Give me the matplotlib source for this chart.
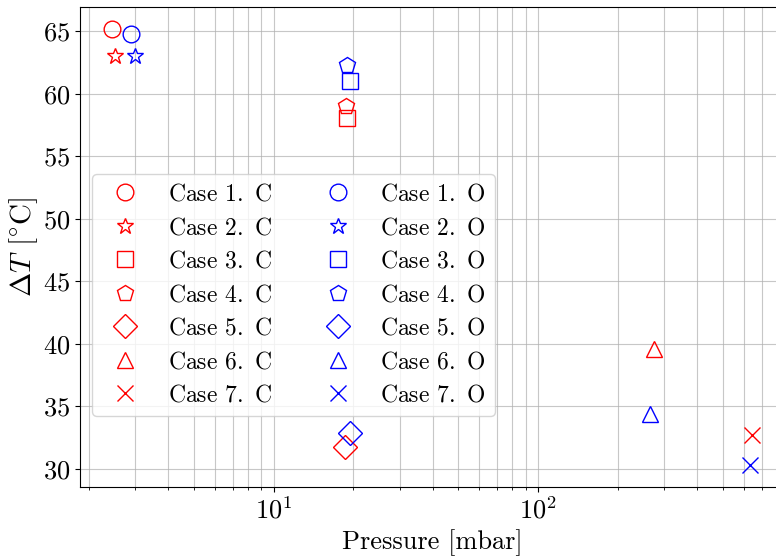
import matplotlib
matplotlib.use("Agg")
import matplotlib.pyplot as plt

plt.rcParams['font.family'] = 'cmr10'
plt.rcParams['mathtext.fontset'] = 'cm'
plt.rcParams['axes.formatter.use_mathtext'] = True

cases = ['Case 1.', 'Case 2.', 'Case 3.', 'Case 4.', 'Case 5.', 'Case 6.', 'Case 7.']
markers = ['o', '*', 's', 'p', 'D', '^', 'x']

# closed (C) runs
p_c = [2.45, 2.51, 19.0, 18.8, 18.7, 274, 643]
dt_c = [65.2, 63.0, 58.1, 59.0, 31.75, 39.6, 32.7]
# open (O) runs
p_o = [2.88, 2.99, 19.4, 19.0, 19.5, 265, 631]
dt_o = [64.8, 63.0, 61.0, 62.3, 32.9, 34.4, 30.3]

fig = plt.figure(figsize=(7.76, 5.57), dpi=100)
ax = fig.add_axes([0.1031, 0.1257, 0.907, 0.8617])

for lab, m, x, y in zip(cases, markers, p_c, dt_c):
    ax.plot(x, y, linestyle='none', marker=m, markersize=12, mfc='none',
            mec='red', mew=1.0, label=lab + r' $\,$C')
for lab, m, x, y in zip(cases, markers, p_o, dt_o):
    ax.plot(x, y, linestyle='none', marker=m, markersize=12, mfc='none',
            mec='blue', mew=1.0, label=lab + r' $\,$O')

ax.set_xscale('log')
ax.grid(True, which='both', color='#b0b0b0', linewidth=0.8, alpha=0.7)
ax.set_axisbelow(True)
ax.tick_params(labelsize=19)
ax.set_xlabel('Pressure [mbar]', fontsize=19)
ax.set_ylabel(r'$\Delta T$ [$^{\circ}$C]', fontsize=21, labelpad=2)

ax.legend(ncol=2, fontsize=17, loc='lower left', bbox_to_anchor=(0.017, 0.148),
          borderaxespad=0, handletextpad=0.8, columnspacing=1.8,
          labelspacing=0.48)

fig.savefig('out.png', dpi=100)
